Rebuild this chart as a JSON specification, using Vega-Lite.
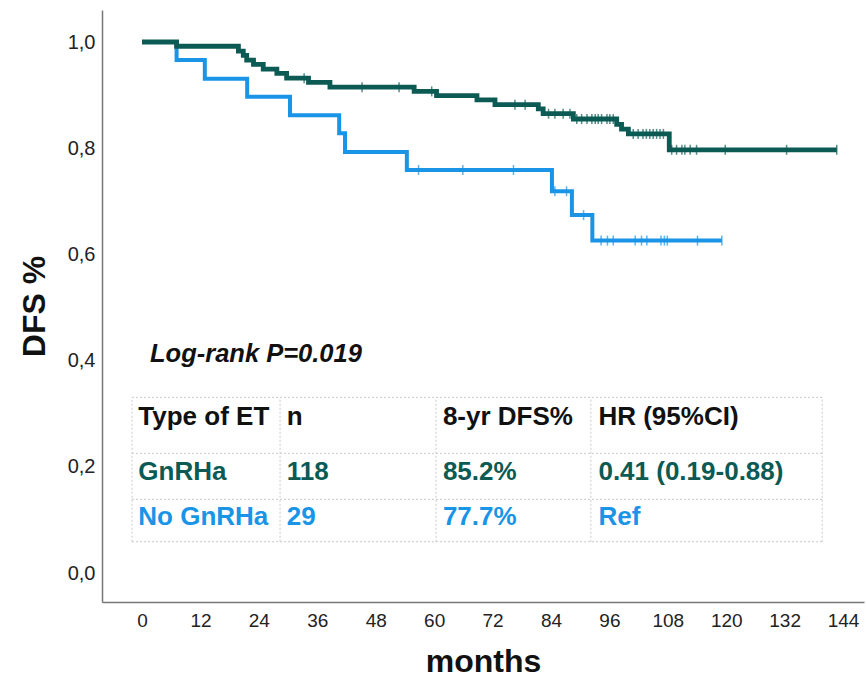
{
  "$schema": "https://vega.github.io/schema/vega-lite/v6.json",
  "width": 762,
  "height": 592,
  "autosize": {"type": "none"},
  "padding": {"left": 102, "top": 10, "right": 2, "bottom": 83},
  "background": "white",
  "config": {
    "view": {"stroke": null},
    "font": "Liberation Sans",
    "axis": {"grid": false, "ticks": false, "domainColor": "#777777", "domainWidth": 1.5, "labelFont": "Liberation Sans", "labelColor": "#222222", "titleFont": "Liberation Sans", "titleFontWeight": "bold", "titleColor": "#111111"}
  },
  "datasets": {
    "steps": [
      {"group": "No GnRHa", "month": 0, "surv": 1.0},
      {"group": "No GnRHa", "month": 7.1, "surv": 0.966},
      {"group": "No GnRHa", "month": 12.9, "surv": 0.931},
      {"group": "No GnRHa", "month": 21.6, "surv": 0.897},
      {"group": "No GnRHa", "month": 30.4, "surv": 0.862},
      {"group": "No GnRHa", "month": 40.5, "surv": 0.828},
      {"group": "No GnRHa", "month": 41.7, "surv": 0.793},
      {"group": "No GnRHa", "month": 54.4, "surv": 0.759},
      {"group": "No GnRHa", "month": 84.2, "surv": 0.719},
      {"group": "No GnRHa", "month": 88.3, "surv": 0.674},
      {"group": "No GnRHa", "month": 92.5, "surv": 0.626},
      {"group": "No GnRHa", "month": 119.1, "surv": 0.626},
      {"group": "GnRHa", "month": 0, "surv": 1.0},
      {"group": "GnRHa", "month": 7.1, "surv": 0.992},
      {"group": "GnRHa", "month": 19.8, "surv": 0.983},
      {"group": "GnRHa", "month": 20.8, "surv": 0.975},
      {"group": "GnRHa", "month": 21.5, "surv": 0.966},
      {"group": "GnRHa", "month": 22.9, "surv": 0.958},
      {"group": "GnRHa", "month": 24.9, "surv": 0.949},
      {"group": "GnRHa", "month": 27.7, "surv": 0.941},
      {"group": "GnRHa", "month": 29.7, "surv": 0.932},
      {"group": "GnRHa", "month": 34.2, "surv": 0.924},
      {"group": "GnRHa", "month": 38.6, "surv": 0.915},
      {"group": "GnRHa", "month": 55.9, "surv": 0.907},
      {"group": "GnRHa", "month": 60.5, "surv": 0.899},
      {"group": "GnRHa", "month": 68.8, "surv": 0.891},
      {"group": "GnRHa", "month": 72.5, "surv": 0.882},
      {"group": "GnRHa", "month": 81.4, "surv": 0.874},
      {"group": "GnRHa", "month": 82.4, "surv": 0.865},
      {"group": "GnRHa", "month": 88.6, "surv": 0.855},
      {"group": "GnRHa", "month": 97.5, "surv": 0.845},
      {"group": "GnRHa", "month": 98.5, "surv": 0.836},
      {"group": "GnRHa", "month": 99.9, "surv": 0.827},
      {"group": "GnRHa", "month": 108.3, "surv": 0.797},
      {"group": "GnRHa", "month": 142.7, "surv": 0.797}
    ],
    "censors": [
      {"group": "No GnRHa", "month": 56.8, "surv": 0.759},
      {"group": "No GnRHa", "month": 65.9, "surv": 0.759},
      {"group": "No GnRHa", "month": 76.3, "surv": 0.759},
      {"group": "No GnRHa", "month": 84.8, "surv": 0.719},
      {"group": "No GnRHa", "month": 87.2, "surv": 0.719},
      {"group": "No GnRHa", "month": 90.7, "surv": 0.674},
      {"group": "No GnRHa", "month": 94.3, "surv": 0.626},
      {"group": "No GnRHa", "month": 95.6, "surv": 0.626},
      {"group": "No GnRHa", "month": 96.8, "surv": 0.626},
      {"group": "No GnRHa", "month": 101.3, "surv": 0.626},
      {"group": "No GnRHa", "month": 102.6, "surv": 0.626},
      {"group": "No GnRHa", "month": 103.7, "surv": 0.626},
      {"group": "No GnRHa", "month": 106.6, "surv": 0.626},
      {"group": "No GnRHa", "month": 107.3, "surv": 0.626},
      {"group": "No GnRHa", "month": 107.9, "surv": 0.626},
      {"group": "No GnRHa", "month": 114.1, "surv": 0.626},
      {"group": "No GnRHa", "month": 119.1, "surv": 0.626},
      {"group": "GnRHa", "month": 33.3, "surv": 0.932},
      {"group": "GnRHa", "month": 45.2, "surv": 0.915},
      {"group": "GnRHa", "month": 52.8, "surv": 0.915},
      {"group": "GnRHa", "month": 59.5, "surv": 0.907},
      {"group": "GnRHa", "month": 76.6, "surv": 0.882},
      {"group": "GnRHa", "month": 78.7, "surv": 0.882},
      {"group": "GnRHa", "month": 83.5, "surv": 0.865},
      {"group": "GnRHa", "month": 84.8, "surv": 0.865},
      {"group": "GnRHa", "month": 86.5, "surv": 0.865},
      {"group": "GnRHa", "month": 87.9, "surv": 0.865},
      {"group": "GnRHa", "month": 89.3, "surv": 0.855},
      {"group": "GnRHa", "month": 90.3, "surv": 0.855},
      {"group": "GnRHa", "month": 91.4, "surv": 0.855},
      {"group": "GnRHa", "month": 92.4, "surv": 0.855},
      {"group": "GnRHa", "month": 93.1, "surv": 0.855},
      {"group": "GnRHa", "month": 93.7, "surv": 0.855},
      {"group": "GnRHa", "month": 94.4, "surv": 0.855},
      {"group": "GnRHa", "month": 95.5, "surv": 0.855},
      {"group": "GnRHa", "month": 96.1, "surv": 0.855},
      {"group": "GnRHa", "month": 96.8, "surv": 0.855},
      {"group": "GnRHa", "month": 100.9, "surv": 0.827},
      {"group": "GnRHa", "month": 101.9, "surv": 0.827},
      {"group": "GnRHa", "month": 102.9, "surv": 0.827},
      {"group": "GnRHa", "month": 103.6, "surv": 0.827},
      {"group": "GnRHa", "month": 104.3, "surv": 0.827},
      {"group": "GnRHa", "month": 105.0, "surv": 0.827},
      {"group": "GnRHa", "month": 105.7, "surv": 0.827},
      {"group": "GnRHa", "month": 106.4, "surv": 0.827},
      {"group": "GnRHa", "month": 107.1, "surv": 0.827},
      {"group": "GnRHa", "month": 108.8, "surv": 0.797},
      {"group": "GnRHa", "month": 109.8, "surv": 0.797},
      {"group": "GnRHa", "month": 110.9, "surv": 0.797},
      {"group": "GnRHa", "month": 111.5, "surv": 0.797},
      {"group": "GnRHa", "month": 112.6, "surv": 0.797},
      {"group": "GnRHa", "month": 113.9, "surv": 0.797},
      {"group": "GnRHa", "month": 119.8, "surv": 0.797},
      {"group": "GnRHa", "month": 132.4, "surv": 0.797},
      {"group": "GnRHa", "month": 142.7, "surv": 0.797}
    ],
    "grid": [
      {"x": -2.05, "x2": 139.7, "y": 0.3309, "y2": 0.3309},
      {"x": -2.05, "x2": 139.7, "y": 0.2254, "y2": 0.2254},
      {"x": -2.05, "x2": 139.7, "y": 0.1388, "y2": 0.1388},
      {"x": -2.05, "x2": 139.7, "y": 0.0589, "y2": 0.0589},
      {"x": -2.05, "x2": -2.05, "y": 0.0589, "y2": 0.3309},
      {"x": 28.35, "x2": 28.35, "y": 0.0589, "y2": 0.3309},
      {"x": 60.4, "x2": 60.4, "y": 0.0589, "y2": 0.3309},
      {"x": 92.2, "x2": 92.2, "y": 0.0589, "y2": 0.3309},
      {"x": 139.7, "x2": 139.7, "y": 0.0589, "y2": 0.3309}
    ],
    "table": [
      {"group": "header", "x": -0.76, "y": 0.2787, "label": "Type of ET"},
      {"group": "header", "x": 29.73, "y": 0.2787, "label": "n"},
      {"group": "header", "x": 61.8, "y": 0.2787, "label": "8-yr DFS%"},
      {"group": "header", "x": 93.75, "y": 0.2787, "label": "HR (95%CI)"},
      {"group": "GnRHa", "x": -0.76, "y": 0.1751, "label": "GnRHa"},
      {"group": "GnRHa", "x": 29.73, "y": 0.1751, "label": "118"},
      {"group": "GnRHa", "x": 61.8, "y": 0.1751, "label": "85.2%"},
      {"group": "GnRHa", "x": 93.75, "y": 0.1751, "label": "0.41 (0.19-0.88)"},
      {"group": "No GnRHa", "x": -0.76, "y": 0.0904, "label": "No GnRHa"},
      {"group": "No GnRHa", "x": 29.73, "y": 0.0904, "label": "29"},
      {"group": "No GnRHa", "x": 61.8, "y": 0.0904, "label": "77.7%"},
      {"group": "No GnRHa", "x": 93.75, "y": 0.0904, "label": "Ref"}
    ],
    "note": [
      {"x": 1.64, "y": 0.398, "label": "Log-rank P=0.019"}
    ]
  },
  "encoding": {
    "x": {"field": "month", "type": "quantitative"},
    "y": {"field": "surv", "type": "quantitative"}
  },
  "layer": [
    {
      "data": {"name": "grid"},
      "mark": {"type": "rule", "color": "#c8c8c8", "strokeWidth": 1, "strokeDash": [2, 2]},
      "encoding": {
        "x": {"field": "x", "type": "quantitative", "scale": {"domain": [-8.22, 148.3], "nice": false, "zero": false}, "axis": {"values": [0, 12, 24, 36, 48, 60, 72, 84, 96, 108, 120, 132, 144], "title": "months", "titleFontSize": 32, "labelFontSize": 19, "labelPadding": 9, "titlePadding": 16}},
        "x2": {"field": "x2"},
        "y": {"field": "y", "type": "quantitative", "scale": {"domain": [-0.0546, 1.0603], "nice": false, "zero": false}, "axis": {"values": [0, 0.2, 0.4, 0.6, 0.8, 1.0], "title": "DFS %", "titleFontSize": 32, "labelFontSize": 20, "labelPadding": 7, "titlePadding": 16, "labelExpr": "replace(format(datum.value, '.1f'), '.', ',')"}},
        "y2": {"field": "y2"}
      }
    },
    {
      "data": {"name": "table"},
      "mark": {"type": "text", "align": "left", "baseline": "alphabetic", "font": "Liberation Sans", "fontSize": 26, "fontWeight": "bold"},
      "encoding": {
        "x": {"field": "x", "type": "quantitative"},
        "y": {"field": "y", "type": "quantitative"},
        "text": {"field": "label"},
        "color": {"field": "group", "type": "nominal", "scale": {"domain": ["GnRHa", "No GnRHa", "header"], "range": ["#0b5a54", "#1a94e6", "#111111"]}, "legend": null}
      }
    },
    {
      "data": {"name": "note"},
      "mark": {"type": "text", "align": "left", "baseline": "alphabetic", "font": "Liberation Sans", "fontSize": 25.5, "fontWeight": "bold", "fontStyle": "italic", "color": "#111111"},
      "encoding": {
        "x": {"field": "x", "type": "quantitative"},
        "y": {"field": "y", "type": "quantitative"},
        "text": {"field": "label"}
      }
    },
    {
      "data": {"name": "steps"},
      "transform": [{"filter": "datum.group === 'No GnRHa'"}],
      "mark": {"type": "line", "interpolate": "step-after", "strokeWidth": 4},
      "encoding": {
        "color": {"field": "group", "type": "nominal", "legend": null}
      }
    },
    {
      "data": {"name": "steps"},
      "transform": [{"filter": "datum.group === 'GnRHa'"}],
      "mark": {"type": "line", "interpolate": "step-after", "strokeWidth": 4.8},
      "encoding": {
        "color": {"field": "group", "type": "nominal", "legend": null}
      }
    },
    {
      "data": {"name": "censors"},
      "mark": {"type": "tick", "orient": "vertical", "size": 10, "thickness": 1.5},
      "encoding": {
        "color": {"field": "group", "type": "nominal", "legend": null}
      }
    }
  ]
}
